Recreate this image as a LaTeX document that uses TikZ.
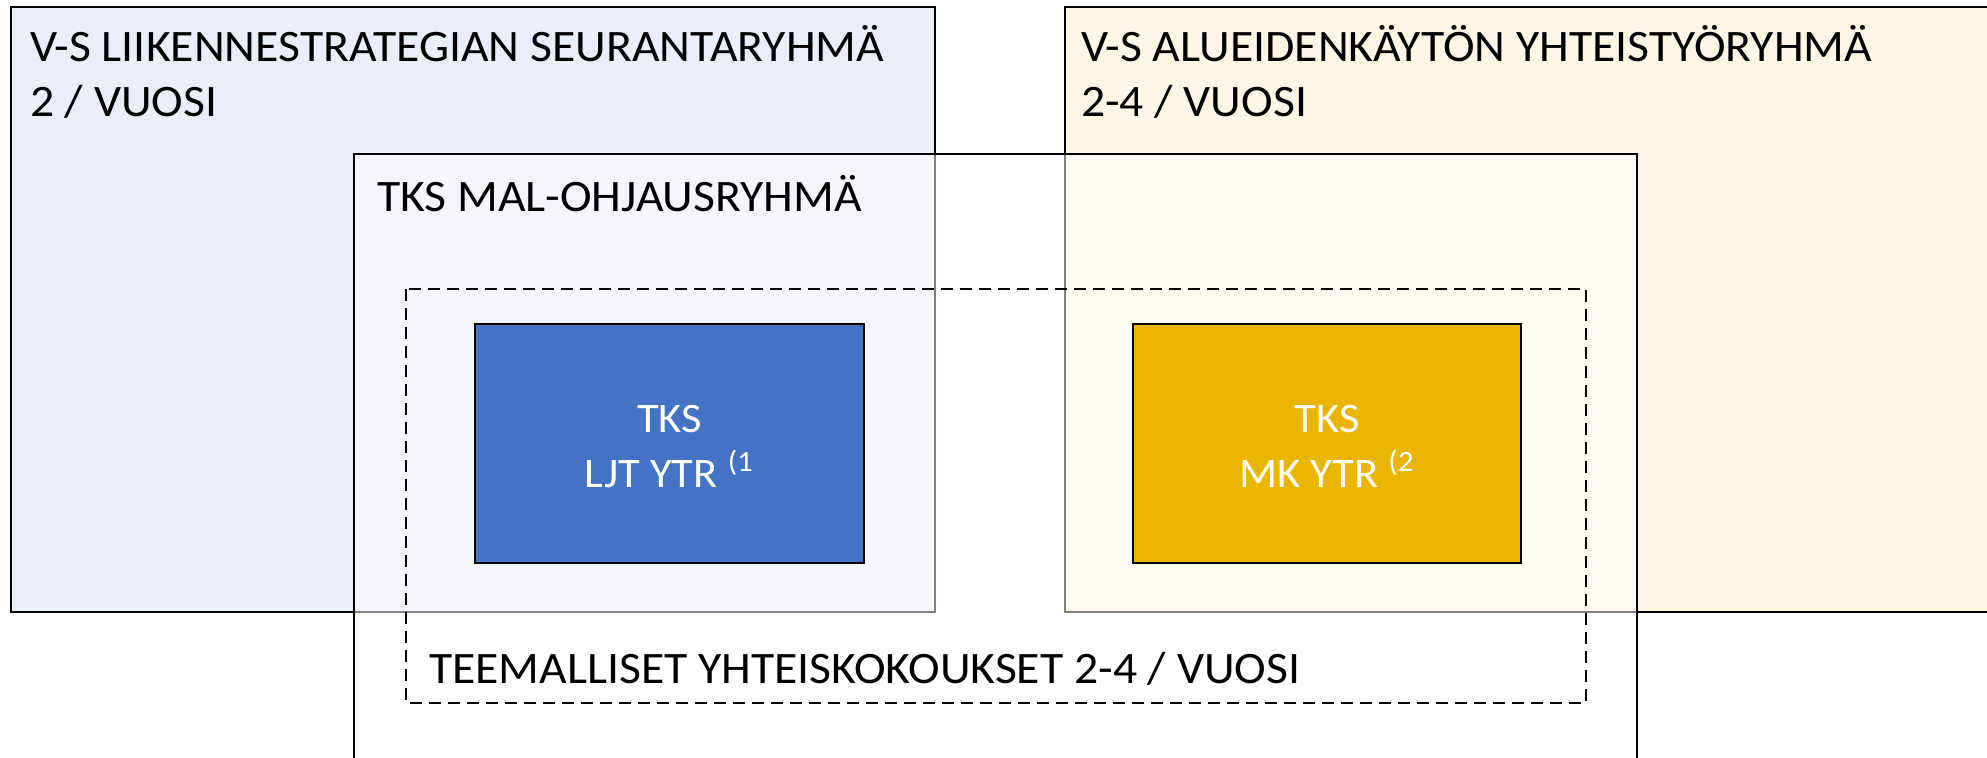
\documentclass[tikz,border=0pt]{standalone}
\usepackage{fontspec}
\setmainfont{Carlito}[FakeStretch=1.06]
\definecolor{strategyfill}{RGB}{233,238,247}
\definecolor{landusefill}{RGB}{255,246,229}
\definecolor{ljtblue}{RGB}{68,114,196}
\definecolor{mkyellow}{RGB}{233,181,0}
\tikzset{
  grouplabel/.style={anchor=base west, inner sep=0pt, font=\fontsize{22.5}{28}\selectfont},
  boxlabel/.style={anchor=base, inner sep=0pt, text=white, font=\fontsize{21}{26}\selectfont},
  meetingline/.style={dash pattern=on 6pt off 3.5pt}
}

\begin{document}
\begin{tikzpicture}[x=0.5pt, y=-0.5pt, line width=1pt]
    \clip (0,0) rectangle (1987,757);
    % Strategy group
    \draw[fill=strategyfill] (11,7) rectangle (935,612);
    \node[grouplabel] (strategy) at (29,61) {V-S LIIKENNESTRATEGIAN SEURANTARYHMÄ};
    \node[grouplabel] (strategyrate) at (29,116) {2 / VUOSI};
    % Land use group
    \draw[fill=landusefill] (1065,7) rectangle (2010,612);
    \node[grouplabel] (landuse) at (1080,61) {V-S ALUEIDENKÄYTÖN YHTEISTYÖRYHMÄ};
    \node[grouplabel] (landuserate) at (1080,116) {2-4 / VUOSI};
    % Steering group, half transparent
    \draw[fill=white, fill opacity=0.5] (354,154) rectangle (1637,780);
    \node[grouplabel] (steering) at (376,211) {TKS MAL-OHJAUSRYHMÄ};
    % Joint meetings
    \draw[meetingline] (406,289) rectangle (1586,703);
    \node[grouplabel] (meetings) at (428,683) {TEEMALLISET YHTEISKOKOUKSET 2-4 / VUOSI};
    % Working groups
    \draw[fill=ljtblue] (475,324) rectangle (864,563);
    \node[boxlabel] (ljttop) at (669.5,432) {TKS};
    \node[boxlabel] (ljtbottom) at (669.5,487) {LJT YTR \textsuperscript{(1}};
    \draw[fill=mkyellow] (1133,324) rectangle (1521,563);
    \node[boxlabel] (mktop) at (1327,432) {TKS};
    \node[boxlabel] (mkbottom) at (1327,487) {MK YTR \textsuperscript{(2}};
\end{tikzpicture}
\end{document}
